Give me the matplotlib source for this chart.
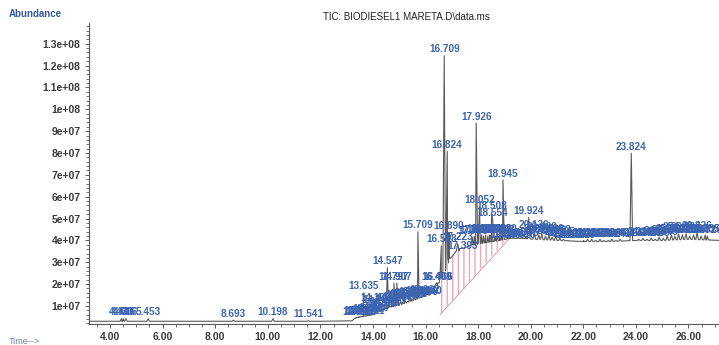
import numpy as np
import matplotlib
matplotlib.use("Agg")
import matplotlib.pyplot as plt
from matplotlib.ticker import MultipleLocator, FuncFormatter

plt.rcParams['font.family'] = ['Liberation Sans', 'DejaVu Sans']

# abundances below are in units of 1e7 counts
SCALE = 1e7

# signal baseline (retention time in min, abundance)
trace_t = [3.2, 4.0, 6.0, 8.0, 10.0, 12.0, 13.2, 13.35, 13.5, 14.0, 14.2, 14.5,
           15.0, 15.5, 16.0, 16.3, 16.6, 16.9, 17.3, 17.8, 18.3, 18.8, 19.2,
           19.6, 20.2, 21.0, 22.0, 23.0, 24.0, 25.0, 26.0, 27.2]
trace_y = [0.30, 0.30, 0.30, 0.30, 0.30, 0.30, 0.32, 0.45, 0.50, 0.60, 0.80, 0.90,
           1.05, 1.25, 1.50, 1.75, 2.30, 3.20, 3.60, 3.80, 3.90, 4.00, 4.10,
           4.10, 4.05, 4.00, 3.95, 3.95, 4.00, 4.00, 4.05, 4.00]

# integrated peaks: retention time and apex abundance
peak_rt = [4.433, 4.496, 4.606, 5.453, 8.693, 10.198, 11.541,
           13.395, 13.446, 13.512, 13.580, 13.702, 13.788, 13.861, 13.947, 14.020,
           13.635, 14.105, 14.189, 14.547,
           14.286, 14.372, 14.455, 14.640, 14.728, 14.951, 15.046, 15.128, 15.215,
           15.302, 15.388, 15.471, 15.556, 15.644, 15.803, 15.886, 15.962, 16.040,
           14.797, 14.907, 15.709, 16.409, 16.466, 16.598, 17.223, 17.393,
           16.709, 16.824, 16.890,
           17.776, 17.853, 18.130, 18.205, 18.288, 18.370, 18.446, 18.640, 18.722,
           18.803, 18.880, 19.040, 19.160,
           17.926, 18.052, 18.508, 18.554, 18.945, 19.924, 20.136,
           19.352, 19.458, 19.610, 19.745, 20.305, 20.420, 20.561, 20.690, 20.812,
           20.953, 21.105, 21.246, 21.402, 21.557, 21.703, 21.856, 22.004, 22.159,
           22.318, 22.470, 22.633, 22.781, 22.947, 23.086, 23.241, 23.402,
           23.824,
           24.106, 24.268, 24.421, 24.583, 24.735, 24.889, 25.043, 25.190, 25.351,
           25.482, 25.622, 25.766, 25.905, 26.046, 26.193, 26.326, 26.482, 26.635,
           26.710]
peak_top = [0.42, 0.42, 0.42, 0.42, 0.35, 0.42, 0.33,
            0.45, 0.50, 0.45, 0.50, 0.48, 0.55, 0.50, 0.55, 0.60,
            1.60, 1.05, 1.00, 2.75,
            0.80, 0.85, 0.90, 1.00, 1.05, 1.10, 1.20, 1.15, 1.25,
            1.20, 1.30, 1.25, 1.35, 1.30, 1.40, 1.35, 1.45, 1.40,
            2.05, 2.05, 4.40, 2.05, 2.05, 3.75, 3.85, 3.45,
            12.45, 8.08, 4.35,
            4.15, 4.20, 4.25, 4.20, 4.25, 4.20, 4.25, 4.20, 4.25,
            4.20, 4.25, 3.95, 4.00,
            9.37, 5.55, 5.27, 4.95, 6.77, 5.05, 4.40,
            4.00, 4.05, 3.95, 4.05, 4.25, 4.30, 4.20, 4.25, 4.15,
            4.20, 4.10, 4.05, 4.00, 3.95, 3.95, 3.95, 4.00, 4.05,
            4.05, 4.00, 4.05, 4.00, 4.00, 4.05, 4.00, 4.05,
            7.99,
            4.05, 4.10, 4.05, 4.10, 4.05, 4.15, 4.10, 4.20, 4.25,
            4.20, 4.30, 4.25, 4.30, 4.20, 4.25, 4.35, 4.20, 4.25,
            4.20]

# region under the co-eluting hump, split off with a drop baseline
shade_t = [16.55, 16.9, 17.3, 17.8, 18.3, 18.8, 19.2]
shade_top = [2.25, 3.20, 3.60, 3.80, 3.90, 4.00, 4.10]
shade_bottom = [0.60, 1.10, 1.60, 2.30, 3.00, 3.65, 4.10]

BLUE = '#3d64b0'
GREY = '#5a5a5a'
TICK = '#3a3a3a'


def build_trace(half_width=0.05):
    # put every peak on top of the baseline as a narrow spike
    t = list(trace_t)
    y = list(trace_y)
    for rt, top in zip(peak_rt, peak_top):
        foot = np.interp(rt, trace_t, trace_y)
        t += [rt - half_width, rt, rt + half_width]
        y += [foot, max(top, foot), foot]
    order = np.argsort(t, kind='stable')
    return np.array(t)[order], np.array(y)[order] * SCALE


def plot_tic():
    fig = plt.figure(figsize=(7.19, 3.45), dpi=100)
    ax = fig.add_axes([89 / 719, 1 - 324 / 345, 1 - 89 / 719, 301 / 345])

    ax.fill_between(shade_t, np.array(shade_bottom) * SCALE, np.array(shade_top) * SCALE,
                    facecolor='none', edgecolor='#e9a9b8', hatch='|||', linewidth=0)
    ax.plot(shade_t[::len(shade_t) - 1], np.array(shade_bottom)[::len(shade_t) - 1] * SCALE,
            color='#d98a9c', lw=0.6)

    t, y = build_trace()
    ax.plot(t, y, color=GREY, lw=0.8)

    # retention time labels above each peak
    for rt, top in zip(peak_rt, peak_top):
        ax.annotate(f"{rt:.3f}", (rt, top * SCALE), xytext=(0, 1), textcoords='offset points',
                    ha='center', va='bottom', fontsize=7.2, fontweight='bold', color=BLUE)

    ax.set_xlim(3.2, 27.16)
    ax.set_ylim(0.175e7, 1.395e8)

    ax.xaxis.set_major_locator(MultipleLocator(2))
    ax.xaxis.set_minor_locator(MultipleLocator(0.5))
    ax.yaxis.set_major_locator(MultipleLocator(1e7))
    ax.yaxis.set_minor_locator(MultipleLocator(2e6))
    ax.xaxis.set_major_formatter(FuncFormatter(lambda v, p: f"{v:.2f}"))
    ax.yaxis.set_major_formatter(FuncFormatter(lambda v, p: f"{v:g}"))

    ax.tick_params(which='major', length=3, width=0.7, color=GREY, labelsize=7.5,
                   labelcolor=TICK, pad=3)
    ax.tick_params(which='minor', length=2, width=0.6, color=GREY)
    for lab in ax.get_xticklabels() + ax.get_yticklabels():
        lab.set_fontweight('bold')

    for side in ['top', 'right']:
        ax.spines[side].set_visible(False)
    for side in ['left', 'bottom']:
        ax.spines[side].set_color(GREY)
        ax.spines[side].set_linewidth(0.8)

    fig.text(406 / 719, 1 - 17 / 345, r"TIC: BIODIESEL1 MARETA.D\data.ms", ha='center',
             va='center', fontsize=7, color='#222222')
    fig.text(9 / 719, 1 - 14 / 345, "Abundance", ha='left', va='center', fontsize=7,
             fontweight='bold', color='#34589e')
    fig.text(9 / 719, 1 - 341 / 345, "Time-->", ha='left', va='center', fontsize=6.5,
             color='#6c82b0')

    fig.savefig('out.png', dpi=100, facecolor='white')


plot_tic()
